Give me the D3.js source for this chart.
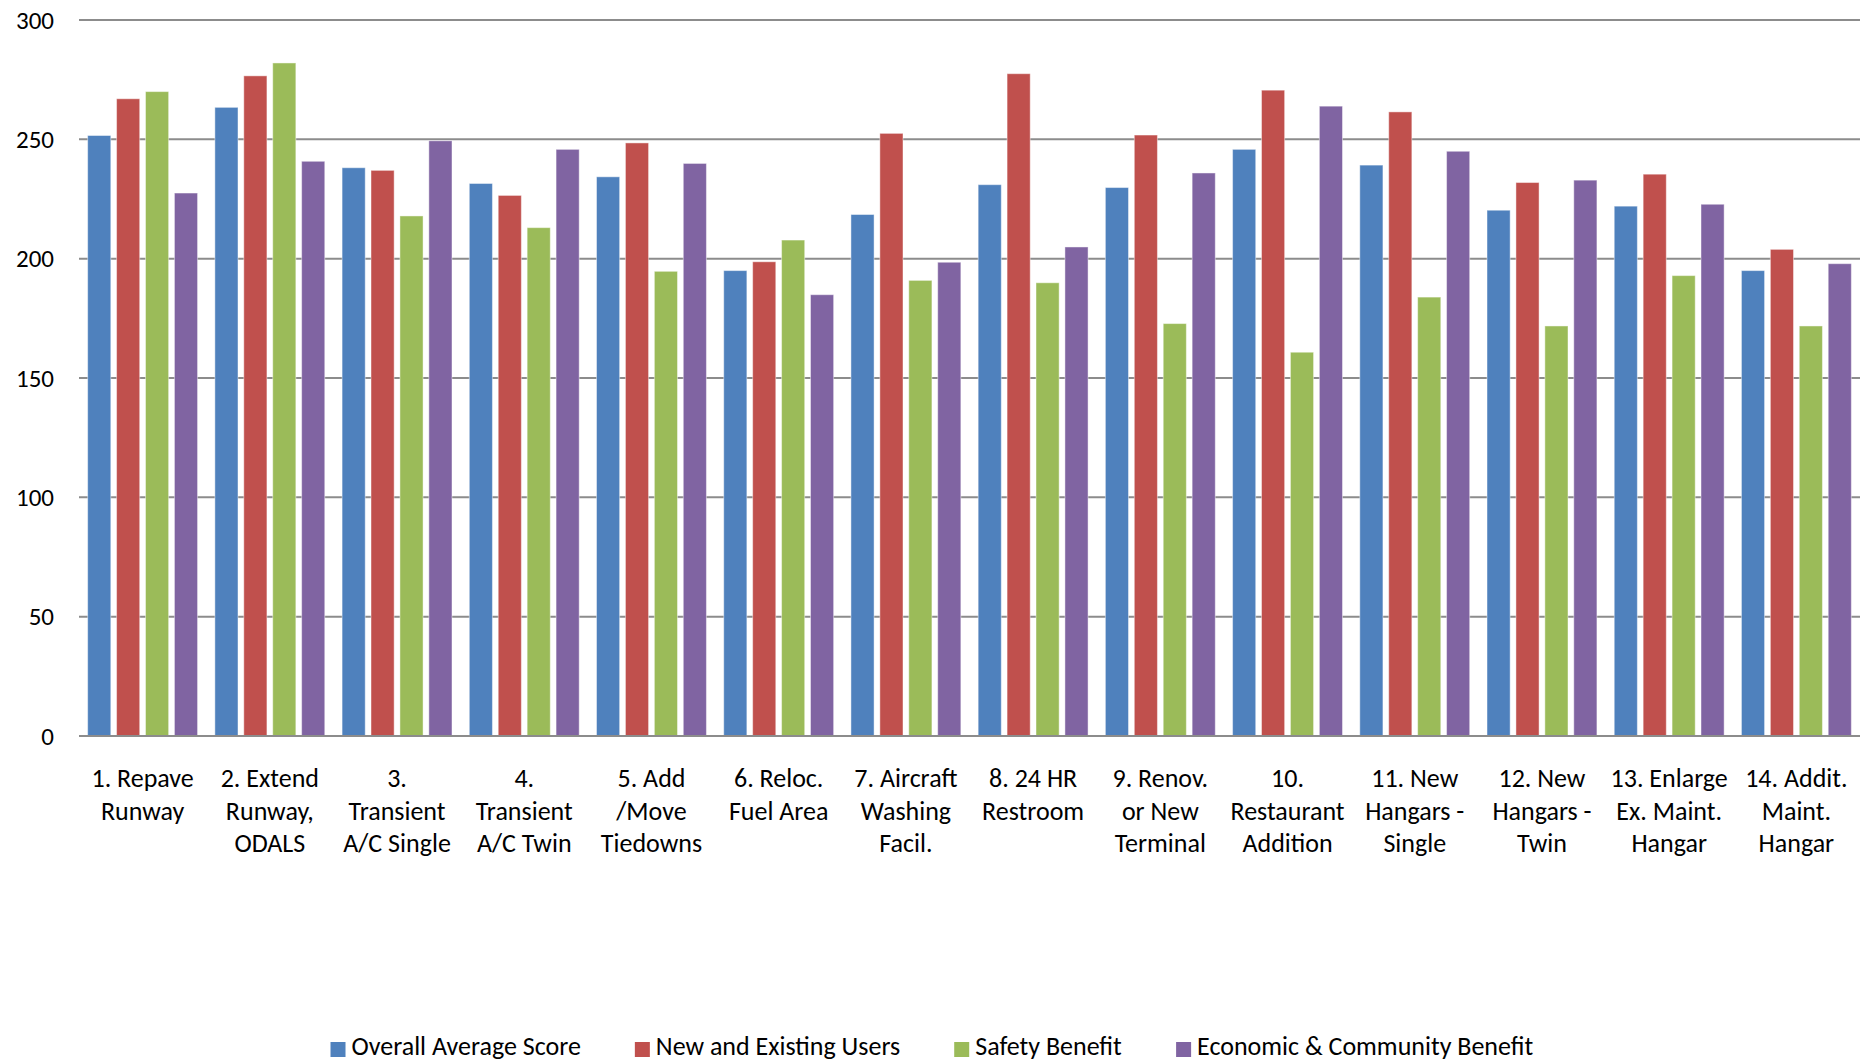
<html>
<head>
<meta charset="utf-8">
<script src="https://cdn.jsdelivr.net/npm/d3@7"></script>
<style>
  body { margin: 0; background: #fff; }
  text { font-family: Carlito, Lato, "Open Sans", sans-serif; fill: #000; }
</style>
</head>
<body>
<script>

const W = 1870, H = 1062;

// categories, one entry per group, split into the lines shown under the axis
const categories = [
  ["1. Repave", "Runway"],
  ["2. Extend", "Runway,", "ODALS"],
  ["3.", "Transient", "A/C Single"],
  ["4.", "Transient", "A/C Twin"],
  ["5. Add", "/Move", "Tiedowns"],
  ["6. Reloc.", "Fuel Area"],
  ["7. Aircraft", "Washing", "Facil."],
  ["8. 24 HR", "Restroom"],
  ["9. Renov.", "or New", "Terminal"],
  ["10.", "Restaurant", "Addition"],
  ["11. New", "Hangars -", "Single"],
  ["12. New", "Hangars -", "Twin"],
  ["13. Enlarge", "Ex. Maint.", "Hangar"],
  ["14. Addit.", "Maint.", "Hangar"]
];

const seriesNames = ["Overall Average Score", "New and Existing Users", "Safety Benefit", "Economic & Community Benefit"];
const seriesColors = ["#4F81BD", "#C0504D", "#9BBB59", "#8064A2"];

const overall   = [251.6, 263.4, 238.1, 231.5, 234.3, 195.0, 218.5, 231.0, 229.8, 245.8, 239.2, 220.3, 222.0, 195.0];
const users     = [267.0, 276.6, 237.0, 226.5, 248.5, 198.7, 252.5, 277.5, 251.8, 270.6, 261.5, 231.9, 235.4, 203.9];
const safety    = [270.0, 282.0, 217.9, 213.0, 194.7, 207.8, 190.9, 189.9, 172.8, 160.8, 183.9, 171.8, 192.9, 171.8];
const economic  = [227.5, 240.8, 249.4, 245.8, 239.9, 184.9, 198.5, 204.9, 235.9, 263.9, 245.0, 232.9, 222.8, 197.9];

const yTicks = [0, 50, 100, 150, 200, 250, 300];

const series = [overall, users, safety, economic];

const svg = d3.select("body").append("svg")
  .attr("width", W)
  .attr("height", H);

const plotLeft = 79, plotRight = 1860, plotTop = 20, plotBottom = 736;

const x = d3.scaleBand()
  .domain(d3.range(categories.length))
  .range([plotLeft, plotRight])
  .padding(0);

const groupPad = x.bandwidth() * 0.068;
const xs = d3.scaleBand()
  .domain(d3.range(series.length))
  .range([groupPad, x.bandwidth() - groupPad])
  .paddingInner(0.2);

const y = d3.scaleLinear()
  .domain([0, 300])
  .range([plotBottom, plotTop]);

// gridlines
svg.append("g")
  .selectAll("line")
  .data(yTicks)
  .join("line")
  .attr("x1", plotLeft)
  .attr("x2", plotRight)
  .attr("y1", d => y(d))
  .attr("y2", d => y(d))
  .attr("stroke", "#8c8c8c")
  .attr("stroke-width", 2);

// y labels
svg.append("g")
  .selectAll("text")
  .data(yTicks)
  .join("text")
  .attr("x", 54)
  .attr("y", d => y(d))
  .attr("dy", "0.35em")
  .attr("text-anchor", "end")
  .attr("font-size", 25)
  .text(d => d);

// bars
const groups = svg.append("g")
  .selectAll("g")
  .data(categories)
  .join("g")
  .attr("transform", (d, i) => `translate(${x(i)},0)`);

groups.selectAll("rect")
  .data((d, i) => series.map((s, k) => ({ k: k, v: s[i] })))
  .join("rect")
  .attr("x", d => xs(d.k))
  .attr("y", d => y(d.v))
  .attr("width", xs.bandwidth())
  .attr("height", d => y(0) - y(d.v))
  .attr("fill", d => seriesColors[d.k])
  .attr("stroke", "rgba(255,255,255,0.45)")
  .attr("stroke-width", 1);

// baseline on top of bars
svg.append("line")
  .attr("x1", plotLeft).attr("x2", plotRight)
  .attr("y1", y(0)).attr("y2", y(0))
  .attr("stroke", "#8c8c8c")
  .attr("stroke-width", 2);

// category labels
const labels = svg.append("g")
  .selectAll("text")
  .data(categories)
  .join("text")
  .attr("text-anchor", "middle")
  .attr("font-size", 26)
  .attr("transform", (d, i) => `translate(${x(i) + x.bandwidth() / 2},778)`);

labels.selectAll("tspan")
  .data(d => d)
  .join("tspan")
  .attr("x", 0)
  .attr("y", (d, j) => j * 32.5)
  .attr("dy", "0.35em")
  .text(d => d);

// legend
const legend = svg.append("g");
const items = legend.selectAll("g")
  .data(seriesNames)
  .join("g");

items.append("rect")
  .attr("width", 15)
  .attr("height", 15)
  .attr("y", -7)
  .attr("fill", (d, i) => seriesColors[i]);

items.append("text")
  .attr("x", 21)
  .attr("y", 6)
  .attr("font-size", 26)
  .text(d => d);

let pos = 0;
const offsets = [];
items.each(function() {
  offsets.push(pos);
  pos += this.getBBox().width + 54;
});
const total = pos - 54;
const startX = 932 - total / 2;
items.attr("transform", (d, i) => `translate(${startX + offsets[i]},1049)`);

</script>
</body>
</html>
